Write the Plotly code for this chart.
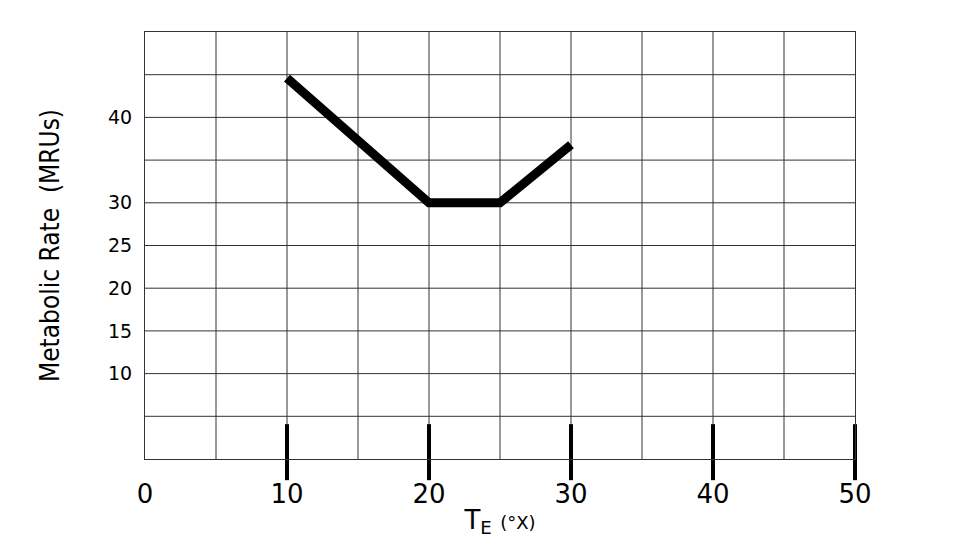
import plotly.graph_objects as go

temp = [10, 20, 25, 30]
rate = [44.6, 30, 30, 36.8]
x_ticks = [0, 10, 20, 30, 40, 50]
y_ticks = [10, 15, 20, 25, 30, 40]
major_ticks = [10, 20, 30, 40, 50]

fig = go.Figure()
fig.add_trace(go.Scatter(x=temp, y=rate, mode="lines",
                         line=dict(color="black", width=9), showlegend=False))
fig.add_trace(go.Scatter(x=major_ticks, y=[0.8]*len(major_ticks), mode="markers",
                         marker=dict(symbol="line-ns", size=40, line=dict(width=4, color="black")),
                         cliponaxis=False, showlegend=False, hoverinfo="skip"))

fig.update_layout(
    width=962, height=550, plot_bgcolor="white", paper_bgcolor="white",
    margin=dict(l=137, r=115, t=24, b=99),
    font=dict(family="DejaVu Sans", color="black"),
    xaxis=dict(range=[0, 50], showgrid=False,
               tickvals=x_ticks, ticktext=[str(v) for v in x_ticks],
               tickfont=dict(size=26), ticks="", ticklabelstandoff=12,
               showline=True, linecolor="#333", mirror=True, zeroline=False,
               title=dict(text="T<sub>E</sub> <span style='font-size:18px'>(°X)</span>",
                          font=dict(size=26), standoff=2)),
    yaxis=dict(range=[0, 50], showgrid=False, zeroline=False,
               tickvals=y_ticks, ticktext=[str(v) for v in y_ticks],
               tickfont=dict(size=19), ticks="", ticklabelstandoff=8,
               showline=True, linecolor="#333", mirror=True,
               title=dict(text="Metabolic Rate  (MRUs)",
                          font=dict(size=26, family="Liberation Sans Narrow, DejaVu Sans Condensed"),
                          standoff=40)),
)
for v in range(5, 50, 5):
    fig.add_shape(type="line", xref="paper", yref="y", x0=0, x1=1, y0=v, y1=v,
                  line=dict(color="#333", width=1), layer="below")
    fig.add_shape(type="line", xref="x", yref="paper", x0=v, x1=v, y0=0, y1=1,
                  line=dict(color="#333", width=1), layer="below")
fig.write_html("out.html")
